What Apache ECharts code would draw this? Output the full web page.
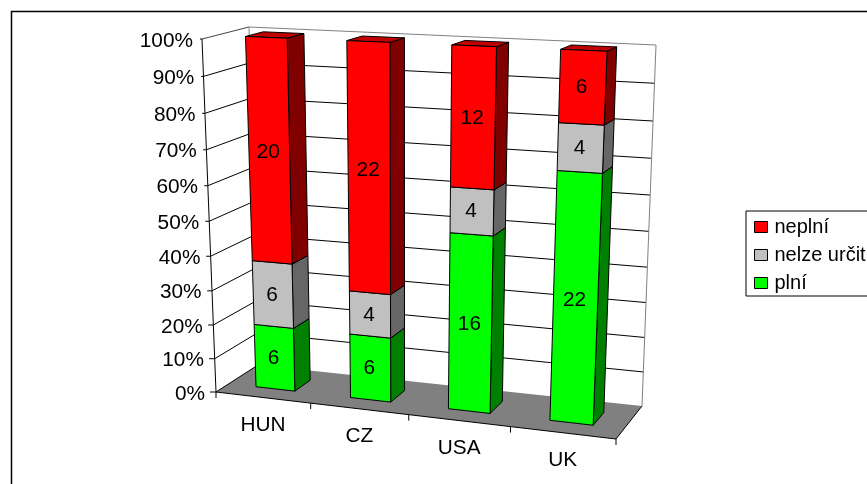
<!DOCTYPE html>
<html>
<head>
<meta charset="utf-8">
<style>html,body{margin:0;padding:0;background:#fff;overflow:hidden}#chart{width:867px;height:484px}</style>
<script src="https://cdn.jsdelivr.net/npm/echarts@6/dist/echarts.min.js"></script>
</head>
<body>
<div id="chart"></div>
<script>
// Counts of responses per country
var categories = ['HUN', 'CZ', 'USA', 'UK'];
var plni = [6, 6, 16, 22];
var nelzeUrcit = [6, 4, 4, 4];
var neplni = [20, 22, 12, 6];
var percentTicks = [0, 10, 20, 30, 40, 50, 60, 70, 80, 90, 100];

var FONT = '"Liberation Sans", Arial, sans-serif';
var TEXT_SIZE = 20, TEXT_STRETCH = 1.04, TEXT_DROP = 2;

// Screen corners of the 3D box: front/back, left/right, floor/ceiling
var box = {
  fl0: [216, 392], fl1: [202, 39], bl0: [258, 365], bl1: [249, 27],
  fr0: [616, 439], fr1: [633, 56], br0: [642, 406], br1: [656, 45]
};
var BAR_FRONT = 0.31, BAR_BACK = 0.70, BAR_BAND = 0.415;
var PERSPECTIVE = { x: 1.075, y: 1.067 };

function warp(t, k) { return t / (t + k * (1 - t)); }
function mix(a, b, t) { return [a[0] + (b[0] - a[0]) * t, a[1] + (b[1] - a[1]) * t]; }

// Turns a point of the flat cartesian grid plus a depth into a point of the box
function projector(rect) {
  return function (p, depth) {
    var u = warp((p[0] - rect.x) / rect.width, PERSPECTIVE.x);
    var v = warp((rect.y + rect.height - p[1]) / rect.height, PERSPECTIVE.y);
    var front = mix(mix(box.fl0, box.fr0, u), mix(box.fl1, box.fr1, u), v);
    var back = mix(mix(box.bl0, box.br0, u), mix(box.bl1, box.br1, u), v);
    return mix(front, back, depth);
  };
}

function poly(points, fill, stroke, z) {
  return {
    type: 'polygon', z2: z || 0,
    shape: { points: points },
    style: { fill: fill, stroke: stroke || '#000', lineWidth: 1, lineJoin: 'round' }
  };
}
function seg(a, b, stroke, z) {
  return {
    type: 'line', z2: z || 0,
    shape: { x1: a[0], y1: a[1], x2: b[0], y2: b[1] },
    style: { stroke: stroke || '#000', lineWidth: 1 }
  };
}
function label(text, pos, align, drop) {
  return {
    type: 'text', x: pos[0], y: pos[1] + (drop === undefined ? TEXT_DROP : drop), scaleX: TEXT_STRETCH, z2: 5,
    style: { text: text, x: 0, y: 0, align: align || 'center', verticalAlign: 'middle',
             font: TEXT_SIZE + 'px ' + FONT, fill: '#000' }
  };
}

// Walls, floor, gridlines, both axes and their labels
function renderFrame(params, api) {
  var project = projector(params.coordSys);
  var rect = params.coordSys;
  var xL = rect.x, xR = rect.x + rect.width;
  var at = function (x, pct, d) { return project([x, api.coord([0, pct])[1]], d); };
  var children = [];

  children.push(poly([at(xL, 0, 0), at(xL, 100, 0), at(xL, 100, 1), at(xL, 0, 1)], '#fff', 'none'));
  children.push(poly([at(xL, 0, 1), at(xL, 100, 1), at(xR, 100, 1), at(xR, 0, 1)], '#fff', 'none'));

  percentTicks.forEach(function (pct) {
    if (pct > 0 && pct < 100) {
      children.push(seg(at(xL, pct, 0), at(xL, pct, 1)));
      children.push(seg(at(xL, pct, 1), at(xR, pct, 1)));
    }
    var p = at(xL, pct, 0);
    var tick = 2 + 4 * (100 - pct) / 100;
    children.push(seg([p[0] - tick, p[1]], p));
    children.push(label(pct + '%', [p[0] - 9 - 2 * (100 - pct) / 100, p[1]], 'right'));
  });

  children.push(seg(at(xL, 100, 0), at(xL, 100, 1), '#444'));
  children.push(seg(at(xL, 100, 1), at(xR, 100, 1), '#808080'));
  children.push(seg(at(xL, 0, 1), at(xL, 100, 1), '#808080'));
  children.push(seg(at(xR, 0, 1), at(xR, 100, 1), '#808080'));

  children.push(poly([at(xL, 0, 0), at(xR, 0, 0), at(xR, 0, 1), at(xL, 0, 1)], '#808080', 'none'));
  children.push(seg(at(xL, 0, 0), at(xR, 0, 0)));
  children.push(seg(at(xR, 0, 0), at(xR, 0, 1)));
  children.push(seg(at(xL, 0, 0), at(xL, 0, 1)));
  children.push(seg(at(xL, 0, 0), at(xL, 100, 0)));

  var band = rect.width / categories.length;
  for (var i = 0; i <= categories.length; i++) {
    var q = at(xL + band * i, 0, 0);
    children.push(seg(q, [q[0], q[1] + 6]));
  }
  categories.forEach(function (name, idx) {
    var c = project([api.coord([idx, 0])[0], api.coord([idx, 0])[1]], 0);
    children.push(label(name, [c[0], c[1] + 26]));
  });
  return { type: 'group', children: children };
}

// One stacked block of a column: front, right side, lid and the value label
function blockRenderer(colors) {
  return function (params, api) {
    var project = projector(params.coordSys);
    var idx = api.value(0), lo = api.value(1), hi = api.value(2);
    var half = api.size([1, 0])[0] * BAR_BAND / 2;
    var cx = api.coord([idx, 0])[0];
    var yLo = api.coord([idx, lo])[1], yHi = api.coord([idx, hi])[1];
    var c = function (x, y, d) { return project([x, y], d); };
    var L = cx - half, R = cx + half;
    var midY = api.coord([idx, (lo + hi) / 2])[1];
    var mid = mix(c(L, midY, BAR_FRONT), c(R, midY, BAR_FRONT), 0.5);
    return {
      type: 'group',
      children: [
        poly([c(R, yLo, BAR_FRONT), c(R, yHi, BAR_FRONT), c(R, yHi, BAR_BACK), c(R, yLo, BAR_BACK)], colors.side),
        poly([c(L, yHi, BAR_FRONT), c(R, yHi, BAR_FRONT), c(R, yHi, BAR_BACK), c(L, yHi, BAR_BACK)], colors.lid),
        poly([c(L, yLo, BAR_FRONT), c(R, yLo, BAR_FRONT), c(R, yHi, BAR_FRONT), c(L, yHi, BAR_FRONT)], colors.front),
        label(String(api.value(3)), [mid[0] - 1, mid[1]], 'center', 0.5)
      ]
    };
  };
}

// Stack the counts into shares of each country's total
var stackOrder = [
  { name: 'plní', values: plni, colors: { front: '#00ff00', side: '#008000', lid: '#00c000' } },
  { name: 'nelze určit', values: nelzeUrcit, colors: { front: '#c0c0c0', side: '#666666', lid: '#909090' } },
  { name: 'neplní', values: neplni, colors: { front: '#ff0000', side: '#800000', lid: '#c00000' } }
];
var totals = categories.map(function (_, i) {
  return plni[i] + nelzeUrcit[i] + neplni[i];
});
var running = categories.map(function () { return 0; });

var series = [{
  type: 'custom', name: 'frame', z: 1, silent: true,
  renderItem: renderFrame, data: [[0, 0]], clip: false
}];
stackOrder.forEach(function (s, order) {
  series.push({
    type: 'custom', name: s.name, z: 2 + order, silent: true, clip: false,
    itemStyle: { color: s.colors.front },
    renderItem: blockRenderer(s.colors),
    encode: { x: 0, y: [1, 2] },
    data: s.values.map(function (v, i) {
      var lo = running[i] / totals[i] * 100;
      running[i] += v;
      return [i, lo, running[i] / totals[i] * 100, v];
    })
  });
});

var chart = echarts.init(document.getElementById('chart'), null, { renderer: 'canvas' });
chart.setOption({
  animation: false,
  backgroundColor: '#fff',
  grid: { left: 216, top: 39, width: 400, height: 353 },
  xAxis: { type: 'category', data: categories, show: false },
  yAxis: { type: 'value', min: 0, max: 100, interval: 10, show: false },
  legend: {
    left: 746, top: 211, orient: 'vertical',
    padding: [6, 9, 3, 8], itemGap: 8, itemWidth: 13, itemHeight: 11,
    backgroundColor: '#fff', borderColor: '#000', borderWidth: 1, borderRadius: 0,
    textStyle: { fontFamily: FONT, fontSize: 20, color: '#000', padding: [1, 0, 0, 2] },
    selectedMode: false,
    data: ['neplní', 'nelze určit', 'plní'].map(function (n) {
      return { name: n, icon: 'rect', itemStyle: { borderColor: '#000', borderWidth: 1 } };
    })
  },
  graphic: [{
    type: 'rect', z: 0, silent: true,
    shape: { x: 11.5, y: 11.5, width: 1000, height: 1000 },
    style: { fill: 'none', stroke: '#000', lineWidth: 1.5 }
  }],
  series: series
});
</script>
</body>
</html>
